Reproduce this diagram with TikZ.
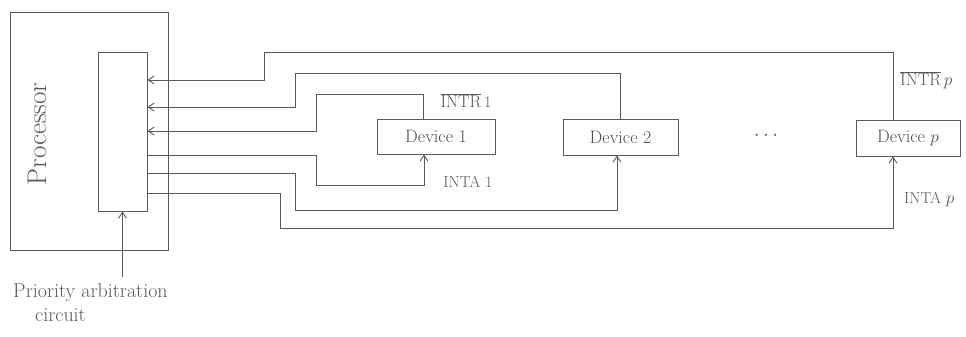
\documentclass[tikz,border=0pt]{standalone}
\usetikzlibrary{arrows.meta}
\begin{document}
\begin{tikzpicture}[x=1pt,y=-1pt,
  ink/.style={draw=black!65, line width=0.9pt},
  boxx/.style={ink, rectangle, inner sep=0pt, text=black!70},
  lbl/.style={text=black!65, inner sep=1pt},
  intr/.style={ink, -{Straight Barb[length=6pt,width=8pt]}},
  inta/.style={ink, -{Straight Barb[length=6pt,width=8pt]}}]
\useasboundingbox (0,0) rectangle (966,337);
\fill[white] (0,0) rectangle (966,337);
% processor and arbitration circuit
\node[boxx, minimum width=158pt, minimum height=238pt] (proc) at (89,131) {};
\node[lbl, rotate=90, font=\fontsize{27}{30}\selectfont] (proclbl) at (37,134) {Processor};
\node[boxx, minimum width=49pt, minimum height=159pt] (arb) at (122.5,131.5) {};
% devices
\node[boxx, minimum width=118pt, minimum height=35pt, font=\fontsize{18}{20}\selectfont] (dev1) at (436,136.5) {Device 1};
\node[boxx, minimum width=115pt, minimum height=36pt, font=\fontsize{18}{20}\selectfont] (dev2) at (620.5,137) {Device 2};
\node[boxx, minimum width=104pt, minimum height=36pt, font=\fontsize{18}{20}\selectfont] (devp) at (908,138) {Device $p$};
\node[lbl, font=\fontsize{20}{22}\selectfont] (dots) at (766,136) {$\cdots$};
% INTR lines
\draw[intr] (devp.north -| 893,0) -- (893,52) -- (264,52) -- (264,80) -- (arb.east |- 0,80);
\draw[intr] (dev2.north -| 620,0) -- (620,73) -- (295,73) -- (295,107) -- (arb.east |- 0,107);
\draw[intr] (dev1.north -| 423,0) -- (423,94) -- (316,94) -- (316,131) -- (arb.east |- 0,131);
% INTA lines
\draw[inta] (arb.east |- 0,155) -- (316,155) -- (316,185) -- (424,185) -- (dev1.south -| 424,0);
\draw[inta] (arb.east |- 0,173) -- (295,173) -- (295,210) -- (617,210) -- (dev2.south -| 617,0);
\draw[inta] (arb.east |- 0,193) -- (280,193) -- (280,228) -- (893,228) -- (devp.south -| 893,0);
% labels
\node[lbl, font=\fontsize{16}{18}\selectfont] (l1) at (466,101) {$\overline{\mathrm{INTR}}$\,1};
\node[lbl, font=\fontsize{16}{18}\selectfont] (l2) at (468,182) {INTA 1};
\node[lbl, anchor=west, font=\fontsize{16}{18}\selectfont] (l3) at (899,80) {$\overline{\mathrm{INTR}}$\,$p$};
\node[lbl, anchor=west, font=\fontsize{16}{18}\selectfont] (l4) at (903,200) {INTA $p$};
% priority arbitration label
\node[lbl, font=\fontsize{20}{24}\selectfont, align=left, anchor=north west] (pa) at (12,282) {Priority arbitration\\\hspace{1.1em}circuit};
\coordinate (pastart) at (arb.south |- 0,277);
\draw[inta] (pastart) -- (arb.south);
\end{tikzpicture}
\end{document}
